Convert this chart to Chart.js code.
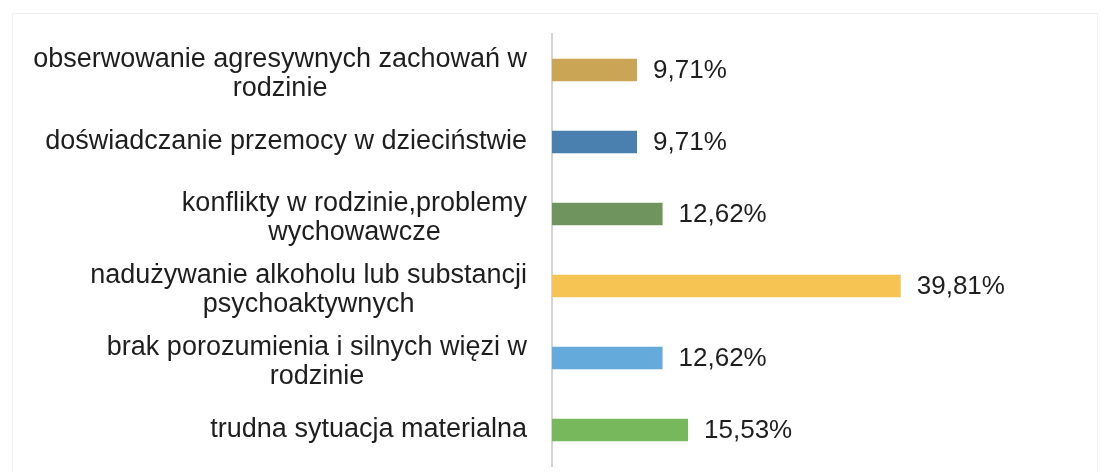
<!DOCTYPE html>
<html lang="pl">
<head>
<meta charset="utf-8">
<title>Przyczyny przemocy w rodzinie</title>
<script src="https://cdn.jsdelivr.net/npm/chart.js@4/dist/chart.umd.min.js"></script>
<style>
  html, body { margin: 0; padding: 0; background: #fff; }
  #wrap { position: relative; width: 1110px; height: 472px; }
  #ramka { position: absolute; left: 12px; top: 13px; width: 1086px; height: 470px;
           border: 1px solid #f0f0f0; box-sizing: border-box; }
  canvas { position: absolute; left: 0; top: 0; }
</style>
</head>
<body>
<div id="wrap">
  <div id="ramka"></div>
  <canvas id="wykres" width="1110" height="472"></canvas>
</div>
<script>
// kategorie (wiersze wykresu, od góry)
const kategorie = [
  ["obserwowanie agresywnych zachowań w", "rodzinie"],
  ["doświadczanie przemocy w dzieciństwie"],
  ["konflikty w rodzinie,problemy", "wychowawcze"],
  ["nadużywanie alkoholu lub substancji", "psychoaktywnych"],
  ["brak porozumienia i silnych więzi w", "rodzinie"],
  ["trudna sytuacja materialna"]
];
// wartości w procentach
const wartosci = [9.71, 9.71, 12.62, 39.81, 12.62, 15.53];
const kolory = [
  "rgb(202,165,86)",
  "rgb(74,128,176)",
  "rgb(112,148,94)",
  "rgb(246,196,82)",
  "rgb(100,170,218)",
  "rgb(120,184,92)"
];

const czcionkaKat = '27px "Liberation Sans", Arial, sans-serif';
const czcionkaWart = '26px "Liberation Sans", Arial, sans-serif';

// Etykiety kategorii (wyrównane do prawej jako blok, linie wyśrodkowane) i wartości
const etykiety = {
  id: "etykiety",
  afterDatasetsDraw(chart) {
    const ctx = chart.ctx;
    const meta = chart.getDatasetMeta(0);
    const skalaY = chart.scales.y;
    ctx.save();
    ctx.fillStyle = "#1e1e1e";
    ctx.textBaseline = "middle";
    meta.data.forEach((slupek, i) => {
      // wartość obok słupka
      ctx.font = czcionkaWart;
      ctx.textAlign = "left";
      const tekst = wartosci[i].toFixed(2).replace(".", ",") + "%";
      ctx.fillText(tekst, slupek.x + 16, slupek.y + 1);

      // nazwa kategorii
      ctx.font = czcionkaKat;
      const linie = kategorie[i];
      const y = skalaY.getPixelForTick(i);
      const szer = Math.max(...linie.map(l => ctx.measureText(l).width));
      const prawa = chart.chartArea.left - 25;
      const srodek = prawa - szer / 2;
      const lh = 29;
      const start = y - (linie.length - 1) * lh / 2 + (linie.length > 1 ? 4 : 0);
      ctx.textAlign = "center";
      linie.forEach((l, j) => ctx.fillText(l, srodek, start + j * lh));
    });
    ctx.restore();
  }
};

new Chart(document.getElementById("wykres"), {
  type: "bar",
  data: {
    labels: kategorie,
    datasets: [{
      data: wartosci,
      backgroundColor: kolory,
      borderWidth: 0,
      categoryPercentage: 1,
      barPercentage: 0.31
    }]
  },
  options: {
    indexAxis: "y",
    responsive: false,
    animation: false,
    layout: { padding: { top: 34, bottom: 6, right: 120 } },
    plugins: {
      legend: { display: false },
      tooltip: { enabled: false }
    },
    scales: {
      x: {
        display: false,
        min: 0,
        max: 50
      },
      y: {
        ticks: { display: false },
        grid: { display: false },
        border: { display: true, color: "#d4d4d4", width: 2 },
        afterFit(skala) { skala.width = 552; }
      }
    }
  },
  plugins: [etykiety]
});
</script>
</body>
</html>
